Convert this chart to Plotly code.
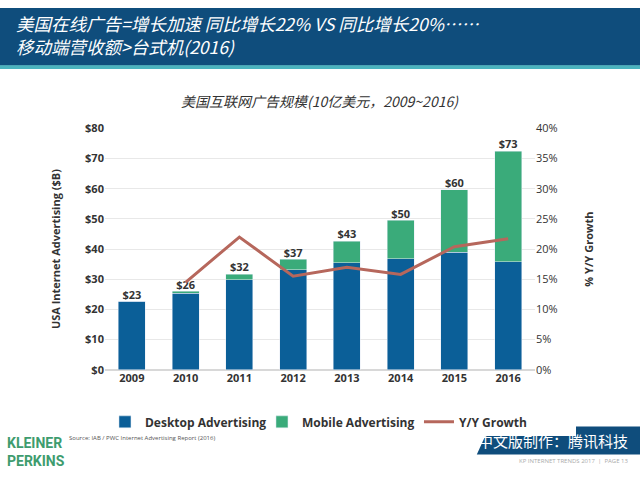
import plotly.graph_objects as go

years = ["2009", "2010", "2011", "2012", "2013", "2014", "2015", "2016"]
desktop = [22.7, 25.4, 29.9, 33.2, 35.5, 36.8, 38.9, 35.8]
mobile = [0.0, 0.6, 1.8, 3.4, 7.1, 12.7, 20.7, 36.7]
totals = [22.7, 26.0, 31.7, 36.6, 42.6, 49.5, 59.6, 72.5]
total_labels = ["$23", "$26", "$32", "$37", "$43", "$50", "$60", "$73"]
growth_years = ["2010", "2011", "2012", "2013", "2014", "2015", "2016"]
growth = [14.5, 22.0, 15.5, 17.0, 15.8, 20.4, 21.7]

left_ticks = [0, 10, 20, 30, 40, 50, 60, 70, 80]
left_labels = ["$0", "$10", "$20", "$30", "$40", "$50", "$60", "$70", "$80"]
right_ticks = [0, 5, 10, 15, 20, 25, 30, 35, 40]
right_labels = ["0%", "5%", "10%", "15%", "20%", "25%", "30%", "35%", "40%"]

cjk = "Noto Sans CJK SC"
latin = "Open Sans"
dark = "#333333"

fig = go.Figure()
fig.add_trace(go.Bar(x=years, y=desktop, name="Desktop Advertising",
                     marker_color="#0b5f98", width=0.5))
fig.add_trace(go.Bar(x=years, y=mobile, name="Mobile Advertising",
                     marker_color="#3aab7a", width=0.5))
fig.add_trace(go.Scatter(x=growth_years, y=growth, name="Y/Y Growth", yaxis="y2",
                         mode="lines", line=dict(color="#b6675c", width=3)))
fig.add_trace(go.Scatter(x=years, y=totals, text=total_labels, mode="text",
                         textposition="top center", showlegend=False, hoverinfo="skip",
                         textfont=dict(family=latin, size=11, color=dark, weight="bold")))

fig.update_layout(
    width=640, height=480,
    margin=dict(l=0, r=0, t=0, b=0),
    paper_bgcolor="white", plot_bgcolor="white",
    barmode="stack",
    font=dict(family=latin, color=dark),
    xaxis=dict(domain=[0.164, 0.836], showgrid=False, ticks="",
               tickfont=dict(size=11, weight="bold", color=dark)),
    yaxis=dict(domain=[0.222, 0.741], range=[0, 80], tickvals=left_ticks,
               ticktext=left_labels, gridcolor="#e8e8e8", zeroline=True,
               zerolinecolor="#d8d8d8", tickfont=dict(size=11, weight="bold", color=dark),
               title=dict(text="USA Internet Advertising ($B)", standoff=22,
                          font=dict(size=11, weight="bold", color=dark))),
    yaxis2=dict(overlaying="y", side="right", range=[0, 40], tickvals=right_ticks,
                ticktext=right_labels, showgrid=False, zeroline=False,
                tickfont=dict(size=11, color=dark),
                title=dict(text="% Y/Y Growth", standoff=28,
                           font=dict(size=11, weight="bold", color=dark))),
    legend=dict(orientation="h", x=0.532, xanchor="center", y=0.11, yanchor="middle",
                font=dict(size=12, weight="bold", color=dark), itemwidth=30,
                traceorder="normal", entrywidth=112),
    showlegend=True,
)

# header band
fig.add_shape(type="rect", xref="paper", yref="paper", x0=0, x1=1, y0=0.876, y1=1,
              fillcolor="#0f4d7c", line_width=0, layer="below")
fig.add_shape(type="rect", xref="paper", yref="paper", x0=0, x1=1, y0=0.869, y1=0.877,
              fillcolor="#4bb3be", line_width=0, layer="below")
fig.add_annotation(text="<i>美国在线广告=增长加速 同比增长22% VS 同比增长20%……</i>",
                   xref="paper", yref="paper", x=0.022, y=0.966, xanchor="left",
                   yanchor="middle", showarrow=False,
                   font=dict(family=cjk, size=17.5, color="white"))
fig.add_annotation(text="<i>移动端营收额>台式机(2016)</i>",
                   xref="paper", yref="paper", x=0.022, y=0.918, xanchor="left",
                   yanchor="middle", showarrow=False,
                   font=dict(family=cjk, size=17.5, color="white"))

# chart title
fig.add_annotation(text="<i>美国互联网广告规模(10亿美元，2009~2016)</i>",
                   xref="paper", yref="paper", x=0.5, y=0.8, xanchor="center",
                   yanchor="middle", showarrow=False,
                   font=dict(family=cjk, size=14, color=dark))

# footer
fig.add_annotation(text="<b>KLEINER<br>PERKINS</b>", xref="paper", yref="paper",
                   x=0.008, y=0.045, xanchor="left", yanchor="middle", showarrow=False,
                   align="left",
                   font=dict(family="Roboto", size=14, color="#3e9c6e"))
fig.add_annotation(text="Source: IAB / PWC Internet Advertising Report (2016)",
                   xref="paper", yref="paper", x=0.105, y=0.075, xanchor="left",
                   yanchor="middle", showarrow=False,
                   font=dict(family=latin, size=6, color="#555555"))
fig.add_shape(type="path", xref="paper", yref="paper",
              path="M 0.745 0.04 L 0.765 0.1 L 1 0.1 L 1 0.04 Z",
              fillcolor="#0f4d7c", line_width=0)
fig.add_annotation(text="中文版制作：腾讯科技", xref="paper", yref="paper",
                   x=0.985, y=0.07, xanchor="right", yanchor="middle", showarrow=False,
                   font=dict(family=cjk, size=15, color="white"))
fig.add_annotation(text="KP INTERNET TRENDS 2017  |  PAGE 13", xref="paper", yref="paper",
                   x=0.985, y=0.025, xanchor="right", yanchor="middle", showarrow=False,
                   font=dict(family=latin, size=6, color="#aaaaaa"))

fig.write_html("out.html", config={"displayModeBar": False},
               post_script="document.body.style.margin='0';")
